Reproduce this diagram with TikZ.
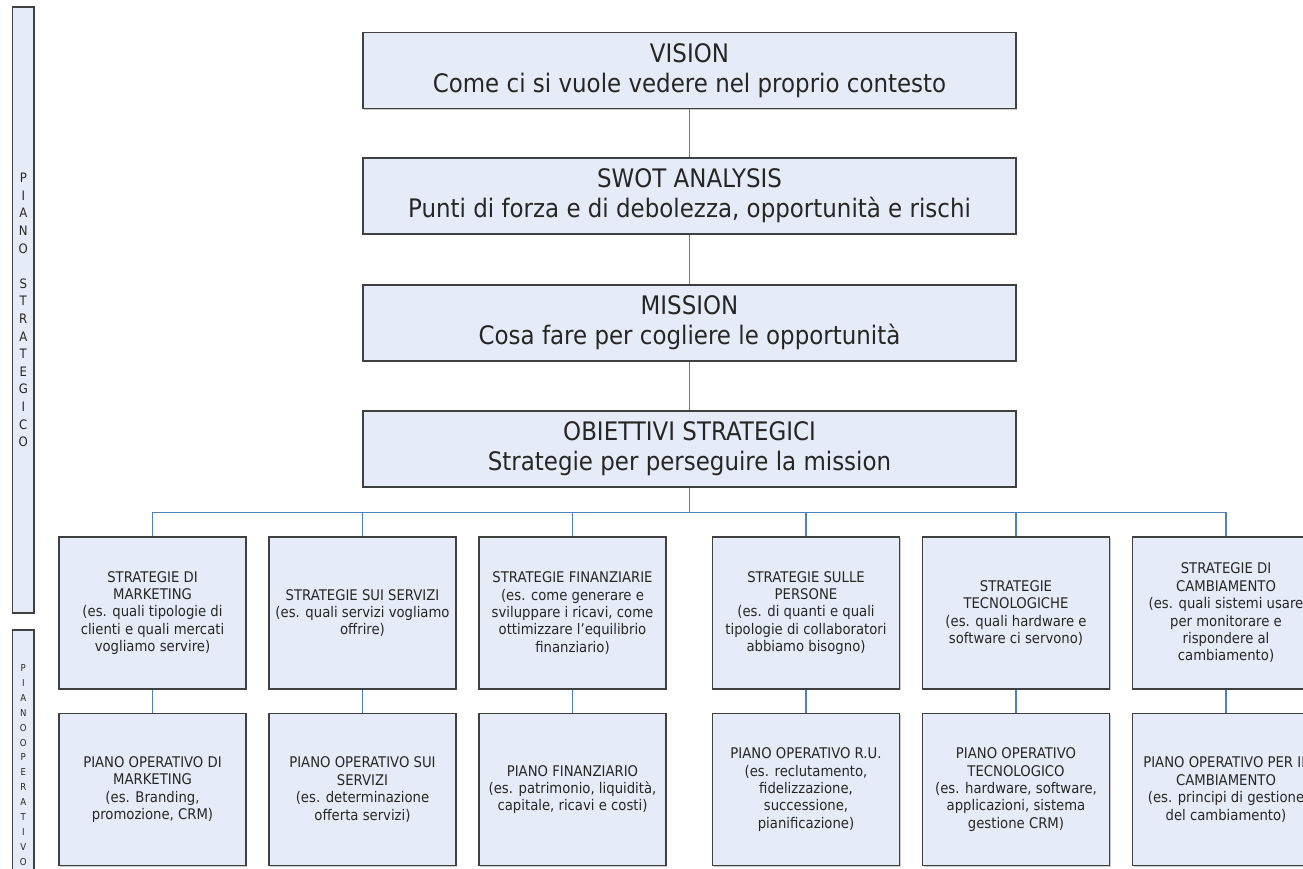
\documentclass[tikz,border=0pt]{standalone}
\usepackage{fontspec}
\setmainfont[FakeStretch=0.9]{DejaVu Sans}
\usetikzlibrary{shadows,calc}
\definecolor{boxfill}{HTML}{E6ECF7}
\definecolor{boxline}{HTML}{404040}
\definecolor{conncol}{HTML}{4F81BD}
\definecolor{txt}{HTML}{262626}
\tikzset{
  basebox/.style={draw=boxline, line width=1.3pt, fill=boxfill, inner sep=0pt, text=txt,
    align=center, drop shadow={shadow xshift=1.2pt, shadow yshift=-1.2pt, fill=black!35, opacity=0.6}},
  bigbox/.style={basebox, minimum width=653pt, minimum height=76pt, font=\fontsize{25.5}{30}\selectfont},
  smallbox/.style={basebox, minimum width=187pt, minimum height=152pt, font=\fontsize{14.7}{17.4}\selectfont},
  sidebar/.style={basebox, minimum width=21.3pt},
  conn/.style={draw=conncol, line width=1.6pt}
}
\begin{document}
\begin{tikzpicture}[x=1pt,y=-1pt]
\useasboundingbox (0,0) rectangle (1303,869);
% side bars
\node[sidebar, minimum height=606pt, font=\fontsize{13}{17.6}\selectfont] (ps) at (23.3,310)
  {P\\I\\A\\N\\O\\\mbox{}\\S\\T\\R\\A\\T\\E\\G\\I\\C\\O};
\node[sidebar, minimum height=270pt, font=\fontsize{9.5}{14.9}\selectfont] (po) at (23.3,765)
  {P\\I\\A\\N\\O\\O\\P\\E\\R\\A\\T\\I\\V\\O};
% top boxes
\node[bigbox] (vision) at (689.5,70.5) {VISION\\Come ci si vuole vedere nel proprio contesto};
\node[bigbox] (swot) at (689.5,196) {SWOT ANALYSIS\\Punti di forza e di debolezza, opportunità e rischi};
\node[bigbox] (mission) at (689.5,323) {MISSION\\Cosa fare per cogliere le opportunità};
\node[bigbox] (obj) at (689.5,449) {OBIETTIVI STRATEGICI\\Strategie per perseguire la mission};
% strategy row
\node[smallbox] (s1) at (152.5,613) {STRATEGIE DI\\MARKETING\\(es. quali tipologie di\\clienti e quali mercati\\vogliamo servire)};
\node[smallbox] (s2) at (362.5,613) {STRATEGIE SUI SERVIZI\\(es. quali servizi vogliamo\\offrire)};
\node[smallbox] (s3) at (572.5,613) {STRATEGIE FINANZIARIE\\(es. come generare e\\sviluppare i ricavi, come\\ottimizzare l’equilibrio\\finanziario)};
\node[smallbox] (s4) at (806,613) {STRATEGIE SULLE\\PERSONE\\(es. di quanti e quali\\tipologie di collaboratori\\abbiamo bisogno)};
\node[smallbox] (s5) at (1016,613) {STRATEGIE\\TECNOLOGICHE\\(es. quali hardware e\\software ci servono)};
\node[smallbox] (s6) at (1226,613) {STRATEGIE DI\\CAMBIAMENTO\\(es. quali sistemi usare\\per monitorare e\\rispondere al\\cambiamento)};
% operative row
\node[smallbox] (p1) at (152.5,789.5) {PIANO OPERATIVO DI\\MARKETING\\(es. Branding,\\promozione, CRM)};
\node[smallbox] (p2) at (362.5,789.5) {PIANO OPERATIVO SUI\\SERVIZI\\(es. determinazione\\offerta servizi)};
\node[smallbox] (p3) at (572.5,789.5) {PIANO FINANZIARIO\\(es. patrimonio, liquidità,\\capitale, ricavi e costi)};
\node[smallbox] (p4) at (806,789.5) {PIANO OPERATIVO R.U.\\(es. reclutamento,\\fidelizzazione,\\successione,\\pianificazione)};
\node[smallbox] (p5) at (1016,789.5) {PIANO OPERATIVO\\TECNOLOGICO\\(es. hardware, software,\\applicazioni, sistema\\gestione CRM)};
\node[smallbox] (p6) at (1226,789.5) {PIANO OPERATIVO PER IL\\CAMBIAMENTO\\(es. principi di gestione\\del cambiamento)};
% connectors
\draw[conn] (vision.south) -- (swot.north);
\draw[conn] (swot.south) -- (mission.north);
\draw[conn] (mission.south) -- (obj.north);
\coordinate (bus) at ($(obj.south)+(0,25)$);
\draw[conn] (obj.south) -- (bus);
\foreach \s in {s1,s2,s3,s4,s5,s6} {
  \draw[conn] (bus) -| (\s.north);
}
\foreach \s/\p in {s1/p1,s2/p2,s3/p3,s4/p4,s5/p5,s6/p6} {
  \draw[conn] (\s.south) -- (\p.north);
}
\end{tikzpicture}
\end{document}
